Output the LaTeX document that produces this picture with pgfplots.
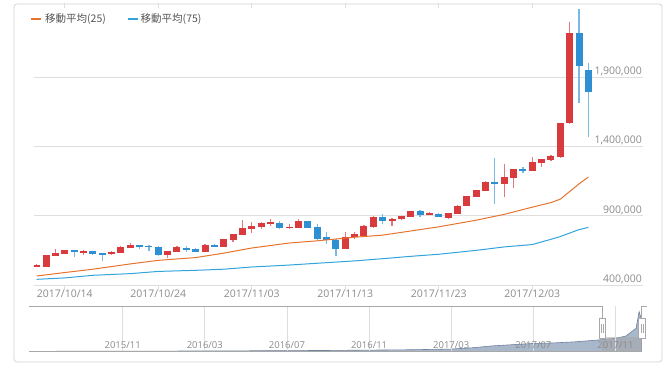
\documentclass[border=0pt]{standalone}
\usepackage{pgfplots}
\pgfplotsset{compat=1.18}
\usepackage{pgfplotstable}
\usepackage{fontspec}
\setmainfont{Open Sans}
\newfontfamily\cjk{Noto Sans CJK JP}
\definecolor{upred}{HTML}{D93A3E}
\definecolor{upwick}{HTML}{E2787C}
\definecolor{dnblue}{HTML}{2E8FD3}
\definecolor{dnwick}{HTML}{78BAE4}
\definecolor{maorange}{HTML}{E5732E}
\definecolor{mablue}{HTML}{33A3DC}
\definecolor{gridgray}{HTML}{DEDEDE}
\definecolor{labgray}{HTML}{8A8A8A}
\definecolor{framegray}{HTML}{D2D2D2}
\definecolor{navfill}{HTML}{A9B7CB}
\definecolor{navline}{HTML}{6E819E}
\definecolor{navframe}{HTML}{A8A8A8}
\definecolor{legtext}{HTML}{555555}

% rising (red) candles: day offset from 2017/10/14, open, high, low, close
\pgfplotstableread{
d o h l c
-3 535000 548000 528000 541000
-2 532000 617000 530000 614000
-1 611000 658000 608000 633000
0 626000 652000 621000 650000
2 631000 650000 619000 643000
5 624000 643000 620000 640000
6 633000 678000 630000 676000
7 669000 705000 666000 689000
11 616000 647000 597000 645000
12 640000 681000 637000 672000
15 640000 694000 637000 691000
17 676000 732000 673000 730000
18 725000 770000 712000 768000
19 761000 869000 758000 809000
20 806000 852000 773000 826000
21 821000 853000 802000 850000
22 842000 876000 828000 852000
24 813000 838000 802000 821000
25 813000 874000 810000 862000
30 660000 780000 657000 749000
31 749000 785000 734000 766000
32 756000 830000 752000 826000
33 818000 896000 815000 893000
35 864000 881000 828000 876000
36 874000 900000 872000 898000
37 893000 936000 890000 934000
39 907000 927000 903000 919000
41 888000 919000 876000 917000
42 914000 974000 912000 972000
43 972000 1045000 970000 1042000
44 1037000 1088000 1035000 1085000
45 1080000 1148000 1078000 1145000
47 1129000 1271000 1033000 1177000
48 1174000 1240000 1098000 1237000
50 1225000 1326000 1220000 1285000
51 1282000 1310000 1249000 1307000
52 1302000 1335000 1298000 1331000
53 1326000 1570000 1320000 1567000
54 1567000 2300000 1565000 2216000
}\upcandles

% falling (blue) candles
\pgfplotstableread{
d o h l c
1 650000 652000 604000 636000
3 645000 647000 616000 626000
4 629000 630000 573000 624000
8 689000 691000 658000 679000
9 684000 686000 645000 672000
10 676000 678000 607000 616000
13 669000 681000 640000 650000
14 658000 669000 637000 640000
16 689000 693000 672000 674000
23 847000 860000 804000 813000
26 860000 862000 810000 813000
27 816000 840000 725000 732000
28 744000 780000 696000 725000
29 725000 732000 609000 660000
34 893000 912000 838000 862000
38 934000 941000 888000 905000
40 914000 917000 890000 893000
46 1143000 1314000 982000 1134000
49 1235000 1254000 1206000 1228000
55 2216000 2396000 1711000 1982000
56 1951000 2000000 1470000 1795000
}\dncandles

\pgfplotstableread{
d v
-3 465000
0 490000
3 514000
7 552000
10 578000
14 598000
17 630000
20 667000
24 703000
27 719000
31 745000
34 760000
37 790000
40 820000
44 868000
47 910000
50 962000
52 995000
53 1020000
54 1075000
55 1130000
56 1180000
}\maA

\pgfplotstableread{
d v
-3 441000
0 451000
3 470000
7 482000
10 498000
14 506000
17 514000
20 530000
24 544000
27 557000
31 574000
34 590000
37 607000
40 622000
44 650000
47 675000
50 692000
52 730000
53 750000
54 775000
55 800000
56 816000
}\maB

% navigator: months from 2015/11, value
\pgfplotstableread{
m v
-4.56 20000
-2 25000
0 30000
2 35000
4 40000
6 50000
8 60000
10 70000
12 90000
14 110000
16 150000
17 220000
18 330000
19 400000
20 470000
21 500000
22 560000
23 650000
24 760000
24.5 890000
25 1330000
25.15 2280000
25.22 2000000
25.27 1900000
}\navdata

\begin{document}
\begin{tikzpicture}
\path[use as bounding box] (0pt,0pt) rectangle (667pt,366pt);
\draw[framegray, line width=0.8pt, rounded corners=3pt] (14pt,4pt) rectangle (662pt,362pt);

\begin{axis}[
  at={(34pt,81pt)}, anchor=south west, scale only axis,
  width=609pt, height=277pt,
  xmin=-3.29, xmax=61.84, ymin=400000, ymax=2400000,
  axis line style={draw=none},
  tick align=outside,
  major tick length=5pt,
  xtick={0,10,20,30,40,50},
  xticklabels={2017/10/14,2017/10/24,2017/11/03,2017/11/13,2017/11/23,2017/12/03},
  xtick style={draw=gridgray, line width=0.8pt},
  ytick={400000,900000,1400000,1900000},
  ytick style={draw=none},
  yticklabel pos=right,
  ymajorgrids,
  grid style={draw=gridgray, line width=0.8pt},
  scaled y ticks=false,
  /pgf/number format/fixed,
  /pgf/number format/1000 sep={,},
  /pgf/number format/assume math mode=true,
  xticklabel style={font=\fontsize{10.5}{12}\selectfont, text=labgray, inner sep=0pt},
  yticklabel style={font=\fontsize{10.5}{12}\selectfont, text=labgray, anchor=south east, inner sep=1pt, xshift=-5pt},
]
% wicks
\addplot[draw=none, forget plot, error bars/.cd, y dir=both, y explicit,
  error mark=none, error bar style={draw=upwick, line width=1.2pt}]
  table[x=d, y expr=(\thisrow{h}+\thisrow{l})/2, y error expr=(\thisrow{h}-\thisrow{l})/2] {\upcandles};
\addplot[draw=none, forget plot, error bars/.cd, y dir=both, y explicit,
  error mark=none, error bar style={draw=dnwick, line width=1.2pt}]
  table[x=d, y expr=(\thisrow{h}+\thisrow{l})/2, y error expr=(\thisrow{h}-\thisrow{l})/2] {\dncandles};
% bodies
\addplot[draw=none, forget plot, error bars/.cd, y dir=both, y explicit,
  error mark=none, error bar style={draw=upred, line width=7pt}]
  table[x=d, y expr=(\thisrow{o}+\thisrow{c})/2, y error expr=abs(\thisrow{c}-\thisrow{o})/2+700] {\upcandles};
\addplot[draw=none, forget plot, error bars/.cd, y dir=both, y explicit,
  error mark=none, error bar style={draw=dnblue, line width=7pt}]
  table[x=d, y expr=(\thisrow{o}+\thisrow{c})/2, y error expr=abs(\thisrow{c}-\thisrow{o})/2+700] {\dncandles};
% moving averages
\addplot[maorange, line width=1pt, mark=none] table[x=d, y=v] {\maA};
\addplot[mablue, line width=1pt, mark=none] table[x=d, y=v] {\maB};
\end{axis}

% navigator
\begin{axis}[
  at={(29pt,14.3pt)}, anchor=south west, scale only axis,
  width=613pt, height=45.7pt,
  xmin=-4.56, xmax=25.29, ymin=0, ymax=2600000,
  axis line style={draw=none},
  axis on top,
  ytick=\empty,
  xtick={0,4,8,12,16,20,24},
  xticklabels={2015/11,2016/03,2016/07,2016/11,2017/03,2017/07,2017/11},
  xtick style={draw=none},
  xmajorgrids, grid style={draw=gridgray, line width=0.8pt},
  xticklabel style={font=\fontsize{9.5}{11}\selectfont, text=labgray, anchor=base, yshift=2.7pt},
]
\addplot[fill=navfill, draw=navline, line width=0.6pt] table[x=m, y=v] {\navdata} \closedcycle;
\fill[black!35, opacity=0.55] (axis cs:23.34,0) rectangle (axis cs:25.29,850000);
\end{axis}

% navigator frame and handles
\draw[navframe, line width=0.8pt] (29pt,60pt) -- (602pt,60pt) -- (602pt,47.7pt);
\draw[navframe, line width=0.8pt] (641.7pt,47.7pt) -- (641.7pt,60pt) -- (646.5pt,60pt);
\draw[navframe, line width=0.6pt] (29pt,14.3pt) -- (642pt,14.3pt);
\foreach \hx in {602.3,642} {
  \draw[navframe, fill=white, line width=0.8pt] (\hx pt-3.3pt,27.7pt) rectangle (\hx pt+3.3pt,47.7pt);
  \draw[navframe, line width=0.5pt] (\hx pt-1pt,33pt) -- (\hx pt-1pt,42pt);
  \draw[navframe, line width=0.5pt] (\hx pt+1pt,33pt) -- (\hx pt+1pt,42pt);
}

% legend
\draw[maorange, line width=1.5pt] (30.5pt,347pt) -- (40.5pt,347pt);
\node[anchor=west, inner sep=0pt, text=legtext, font=\cjk\fontsize{10.5}{12}\selectfont] at (45pt,347pt) {移動平均(25)};
\draw[mablue, line width=1.5pt] (127.5pt,347pt) -- (137.5pt,347pt);
\node[anchor=west, inner sep=0pt, text=legtext, font=\cjk\fontsize{10.5}{12}\selectfont] at (140.5pt,347pt) {移動平均(75)};
\end{tikzpicture}
\end{document}
